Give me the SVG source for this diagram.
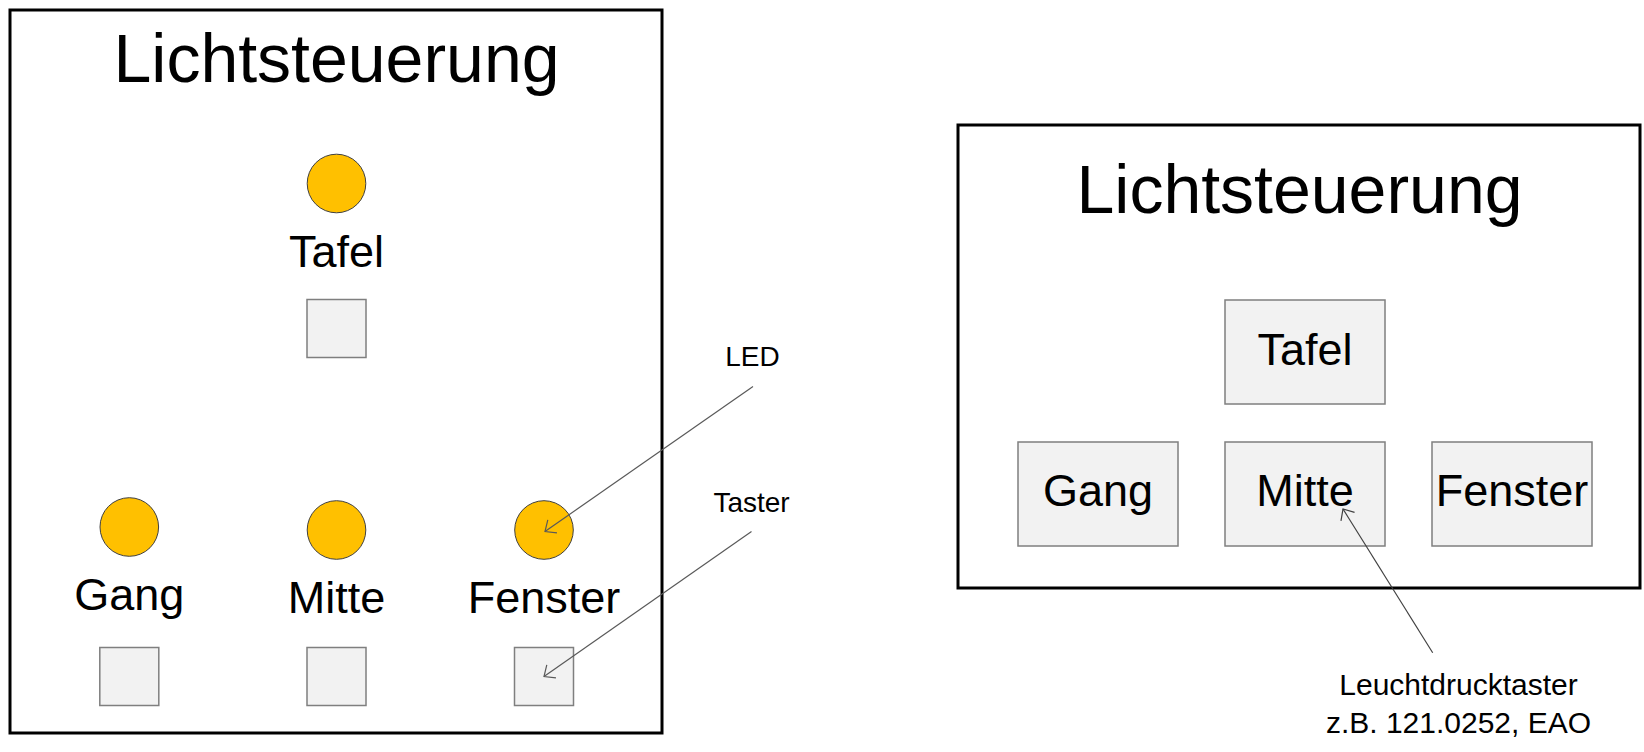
<svg xmlns="http://www.w3.org/2000/svg" width="1644" height="752" viewBox="0 0 1644 752">
<defs>
<style>
.frame{fill:#fff;stroke:#000;stroke-width:3}
.led{fill:#FFC000;stroke:#404040;stroke-width:1}
.btn{fill:#F2F2F2;stroke:#7F7F7F;stroke-width:1.5}
.t{font-family:"Liberation Sans",Arial,sans-serif;fill:#000;text-anchor:middle}
.title{font-size:68px}
.lbl{font-size:45px}
.note{font-size:28px}
.note2{font-size:30px}
.conn{fill:none;stroke-width:1.2}
</style>
<marker id="ah1" markerUnits="userSpaceOnUse" orient="auto" markerWidth="20" markerHeight="20" refX="0" refY="0" viewBox="-12 -10 14 20" overflow="visible">
<path d="M-9,-8 L0,0 L-9,8" fill="none" stroke="#595959" stroke-width="1.2"/>
</marker>
<marker id="ah2" markerUnits="userSpaceOnUse" orient="auto" markerWidth="20" markerHeight="20" refX="0" refY="0" viewBox="-12 -10 14 20" overflow="visible">
<path d="M-9,-8 L0,0 L-9,8" fill="none" stroke="#404040" stroke-width="1.2"/>
</marker>
</defs>
<rect width="1644" height="752" fill="#fff"/>

<g id="panel-left">
<rect class="frame" x="10" y="10" width="652" height="723"/>
<text class="t title" x="336.5" y="82">Lichtsteuerung</text>
</g>
<g id="left-tafel">
<circle class="led" cx="336.5" cy="183.5" r="29.3"/>
<text class="t lbl" x="336.5" y="267">Tafel</text>
<rect class="btn" x="307" y="299.5" width="59" height="58"/>
</g>
<g id="left-gang">
<circle class="led" cx="129.3" cy="527" r="29.3"/>
<text class="t lbl" x="129.3" y="610">Gang</text>
<rect class="btn" x="99.8" y="647.5" width="59" height="58"/>
</g>
<g id="left-mitte">
<circle class="led" cx="336.5" cy="530" r="29.3"/>
<text class="t lbl" x="336.5" y="613">Mitte</text>
<rect class="btn" x="307" y="647.5" width="59" height="58"/>
</g>
<g id="left-fenster">
<circle class="led" cx="544" cy="530" r="29.3"/>
<text class="t lbl" x="544" y="613">Fenster</text>
<rect class="btn" x="514.5" y="647.5" width="59" height="58"/>
</g>
<g id="label-led"><text class="t note" x="752.5" y="366">LED</text></g>
<g id="label-taster"><text class="t note" x="751.5" y="511.5">Taster</text></g>

<g id="panel-right">
<rect class="frame" x="958" y="125" width="682" height="463"/>
<text class="t title" x="1299.5" y="213">Lichtsteuerung</text>
</g>
<g id="right-tafel">
<rect class="btn" x="1225" y="300" width="160" height="104"/>
<text class="t lbl" x="1305" y="365">Tafel</text>
</g>
<g id="right-gang">
<rect class="btn" x="1018" y="442" width="160" height="104"/>
<text class="t lbl" x="1098" y="506">Gang</text>
</g>
<g id="right-mitte">
<rect class="btn" x="1225" y="442" width="160" height="104"/>
<text class="t lbl" x="1305" y="506">Mitte</text>
</g>
<g id="right-fenster">
<rect class="btn" x="1432" y="442" width="160" height="104"/>
<text class="t lbl" x="1512" y="506">Fenster</text>
</g>
<g id="label-leuchtdrucktaster">
<text class="t note2" x="1458.5" y="695">Leuchtdrucktaster</text>
<text class="t note2" x="1458.5" y="733">z.B. 121.0252, EAO</text>
</g>

<g id="connectors">
<line class="conn" stroke="#595959" x1="753" y1="386.5" x2="545" y2="531.5" marker-end="url(#ah1)"/>
<line class="conn" stroke="#595959" x1="751.5" y1="531.5" x2="544" y2="676.5" marker-end="url(#ah1)"/>
<line class="conn" stroke="#404040" x1="1432.7" y1="652.7" x2="1343" y2="509" marker-end="url(#ah2)"/>
</g>
</svg>
